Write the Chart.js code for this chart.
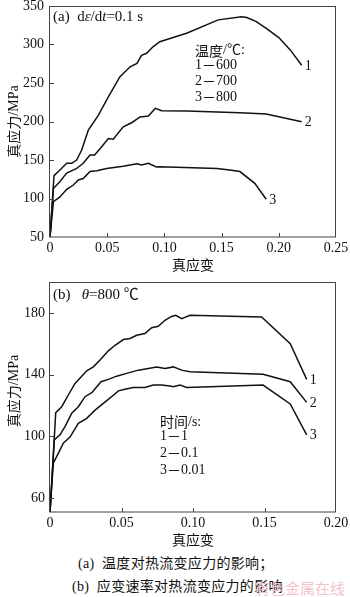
<!DOCTYPE html>
<html lang="zh">
<head>
<meta charset="UTF-8">
<title>真应力-真应变曲线</title>
<script src="https://cdn.jsdelivr.net/npm/chart.js"></script>
<style>
  body { margin: 0; background: #fff; }
  #page { position: relative; width: 350px; height: 597px; overflow: hidden; }
  canvas { position: absolute; left: 0; }
  #chartA { top: 0; }
  #chartB { top: 278px; }
  .caption { position: absolute; font-size: 14px; color: #111; white-space: nowrap; letter-spacing: 0.3px; }
  .caption .s { font-family: "Liberation Serif", serif; }
  .caption .c { font-family: "Noto Sans CJK SC", sans-serif; }
  .mark { position: absolute; left: 255px; top: 577px; font: 15px "Noto Sans CJK SC", sans-serif; color: #f3c3ca; white-space: nowrap; }
</style>
</head>
<body>
<div id="page">
  <canvas id="chartA" width="350" height="275"></canvas>
  <canvas id="chartB" width="350" height="274"></canvas>
  <div class="caption" style="left:78px; top:552px;"><span class="s">(a)</span>&nbsp;&nbsp;<span class="c">温度对热流变应力的影响；</span></div>
  <div class="caption" style="left:72px; top:575px;"><span class="s">(b)</span>&nbsp;&nbsp;<span class="c">应变速率对热流变应力的影响</span></div>
  <div class="mark">有色金属在线</div>
</div>
<script>
// (a) dε/dt = 0.1 s, 600 / 700 / 800 ℃
const strainA1 = [0, 0.0035, 0.0087, 0.0146, 0.019, 0.0233, 0.0277, 0.0335, 0.0422, 0.051, 0.061, 0.070, 0.076, 0.080, 0.0845, 0.090, 0.096, 0.120, 0.147, 0.1675, 0.172, 0.180, 0.190, 0.200, 0.210, 0.220];
const stressA1 = [50, 129.6, 137, 145.7, 145.7, 150, 163, 189, 208, 232, 258, 271, 275.5, 286, 288.6, 297, 303.6, 315, 332, 336, 335, 330, 320, 309, 293, 273];
const strainA2 = [0, 0.003, 0.0087, 0.0146, 0.0233, 0.029, 0.035, 0.039, 0.045, 0.051, 0.0553, 0.064, 0.0714, 0.0787, 0.086, 0.092, 0.0976, 0.1195, 0.166, 0.189, 0.207, 0.220];
const stressA2 = [50, 113, 122, 133, 139, 145.7, 156.5, 156.5, 167, 178, 177, 193, 198.4, 206, 207, 217, 214, 213.6, 211.5, 209.7, 204, 199.7];
const strainA3 = [0, 0.003, 0.0087, 0.0146, 0.0204, 0.0248, 0.029, 0.035, 0.041, 0.0495, 0.064, 0.076, 0.080, 0.086, 0.093, 0.096, 0.146, 0.157, 0.166, 0.179, 0.189];
const stressA3 = [50, 96, 102, 112, 117.5, 124, 126, 135, 136, 139, 142, 145, 143.5, 145.7, 141, 141.3, 139, 137, 135, 119.7, 99];

// (b) θ = 800 ℃, 1 / 0.1 / 0.01 s
const strainB1 = [0, 0.004, 0.0082, 0.0128, 0.0175, 0.0222, 0.0257, 0.0303, 0.035, 0.0408, 0.0455, 0.0513, 0.056, 0.0606, 0.0664, 0.0711, 0.0757, 0.0804, 0.085, 0.0879, 0.0921, 0.0979, 0.148, 0.168, 0.1795];
const stressB1 = [51, 115.4, 119.2, 126.8, 134.3, 139, 142.5, 145, 149.4, 155.4, 159, 162.7, 163.4, 165.5, 166.6, 170.4, 171.3, 175.2, 177.7, 178.4, 176.3, 178.4, 177.3, 160.1, 136.9];
const strainB2 = [0, 0.003, 0.007, 0.0105, 0.0152, 0.0198, 0.0245, 0.0292, 0.0357, 0.0408, 0.0466, 0.0536, 0.0618, 0.0687, 0.0746, 0.0804, 0.0862, 0.0921, 0.0979, 0.149, 0.168, 0.1795];
const stressB2 = [51, 97.7, 101, 106.3, 115, 119.2, 125.7, 128.3, 135.4, 136.9, 139, 140.8, 142.9, 144, 145, 144, 145, 142.9, 141.8, 140.3, 135.4, 122];
const strainB3 = [0, 0.0023, 0.0058, 0.0093, 0.014, 0.0198, 0.0257, 0.0315, 0.0373, 0.0431, 0.0478, 0.0524, 0.0582, 0.0664, 0.0722, 0.078, 0.0839, 0.0862, 0.0909, 0.0956, 0.149, 0.168, 0.1795];
const stressB3 = [51, 82.7, 89, 95.6, 99.5, 108.5, 111.7, 117, 121.4, 125.7, 129.5, 130.5, 131.7, 131.7, 133.2, 133.2, 132.6, 132.1, 133.2, 131.7, 133.2, 121, 101];

// axis ticks
const ticksAX = [0, 0.05, 0.10, 0.15, 0.20, 0.25];
const labelsAX = ['0', '0.05', '0.10', '0.15', '0.20', '0.25'];
const ticksAY = [50, 100, 150, 200, 250, 300, 350];
const ticksBX = [0, 0.05, 0.10, 0.15, 0.20];
const labelsBX = ['0', '0.05', '0.10', '0.15', '0.20'];
const ticksBY = [60, 100, 140, 180];

const SERIF = '"Liberation Serif", "Noto Sans CJK SC", serif';
const CJK = '"Noto Sans CJK SC", sans-serif';
const S = (t, px = 14) => ({ t, f: px + 'px ' + SERIF });
const SI = (t, px = 14) => ({ t, f: 'italic ' + px + 'px ' + SERIF });
const C = t => ({ t, f: '14px ' + CJK });

function pts(xs, ys) { return xs.map((x, i) => ({ x, y: ys[i] })); }

function drawRuns(ctx, x, y, runs) {
  runs.forEach(r => {
    ctx.font = r.f;
    ctx.fillText(r.t, x, y);
    x += ctx.measureText(r.t).width;
  });
}
function runsWidth(ctx, runs) {
  return runs.reduce((w, r) => { ctx.font = r.f; return w + ctx.measureText(r.t).width; }, 0);
}

// box, inward tick marks, axis titles and notes
const framePlugin = {
  id: 'frame',
  afterDatasetsDraw(chart, args, opts) {
    const { ctx, chartArea: a, scales: { x, y } } = chart;
    ctx.save();
    ctx.strokeStyle = '#444';
    ctx.lineWidth = 1;
    ctx.strokeRect(a.left - 0.5, a.top + 0.5, a.right - a.left, a.bottom - a.top - 0.5);
    ctx.beginPath();
    x.ticks.forEach(t => {
      const px = Math.round(x.getPixelForValue(t.value)) + 0.5;
      if (px > a.left + 2 && px < a.right - 2) { ctx.moveTo(px, a.bottom); ctx.lineTo(px, a.bottom - 4); }
    });
    y.ticks.forEach(t => {
      const py = Math.round(y.getPixelForValue(t.value)) + 0.5;
      if (py > a.top + 2 && py < a.bottom - 2) { ctx.moveTo(a.left, py); ctx.lineTo(a.left + 4, py); }
    });
    ctx.stroke();

    ctx.fillStyle = '#111';
    ctx.textBaseline = 'middle';
    ctx.textAlign = 'left';
    opts.notes.forEach(n => drawRuns(ctx, a.left + n.dx, a.top + n.dy, n.runs));

    // curve numbers next to the last point of each curve
    chart.data.datasets.forEach((ds, i) => {
      const last = ds.data[ds.data.length - 1];
      ctx.font = '14px ' + SERIF;
      ctx.fillText(String(i + 1), x.getPixelForValue(last.x) + 3, y.getPixelForValue(last.y) + 1);
    });

    // axis titles
    const xt = [C('真应变')];
    drawRuns(ctx, (a.left + a.right) / 2 - runsWidth(ctx, xt) / 2, a.bottom + 28, xt);
    const yt = [C('真应力'), S('/MPa')];
    ctx.translate(14, (a.top + a.bottom) / 2 + opts.yShift);
    ctx.rotate(-Math.PI / 2);
    drawRuns(ctx, -runsWidth(ctx, yt) / 2, 0, yt);
    ctx.restore();
  }
};

function makeChart(id, sets, cfg) {
  return new Chart(document.getElementById(id), {
    type: 'line',
    data: {
      datasets: sets.map(s => ({
        data: s, borderColor: '#111', borderWidth: 1.5,
        pointRadius: 0, tension: 0, fill: false
      }))
    },
    options: {
      responsive: false,
      animation: false,
      devicePixelRatio: 1,
      layout: { padding: { top: cfg.top, right: 14, left: 0, bottom: 0 } },
      plugins: {
        legend: { display: false },
        tooltip: { enabled: false },
        frame: { notes: cfg.notes, yShift: cfg.yShift }
      },
      scales: {
        x: {
          type: 'linear', min: cfg.xMin, max: cfg.xMax,
          grid: { display: false, drawTicks: false },
          border: { display: false },
          afterBuildTicks: s => { s.ticks = cfg.xTicks.map(v => ({ value: v })); },
          afterFit: s => { s.height = cfg.xHeight; s.paddingLeft = 0; s.paddingRight = 0; },
          ticks: {
            padding: 3, color: '#111', maxRotation: 0, autoSkip: false,
            font: { family: SERIF, size: 14 },
            callback: (v, i) => cfg.xLabels[i]
          }
        },
        y: {
          min: cfg.yMin, max: cfg.yMax,
          grid: { display: false, drawTicks: false },
          border: { display: false },
          afterBuildTicks: s => { s.ticks = cfg.yTicks.map(v => ({ value: v })); },
          afterFit: s => { s.width = 50; s.paddingTop = 0; s.paddingBottom = 0; },
          ticks: {
            padding: cfg.yPad, color: '#111', autoSkip: false,
            font: { family: SERIF, size: 14 },
            callback: v => String(v)
          }
        }
      }
    },
    plugins: [framePlugin]
  });
}

makeChart('chartA',
  [pts(strainA1, stressA1), pts(strainA2, stressA2), pts(strainA3, stressA3)],
  {
    top: 6, xHeight: 38, yPad: 6, yShift: 0,
    xMin: 0, xMax: 0.25, yMin: 50, yMax: 350,
    xTicks: ticksAX, xLabels: labelsAX, yTicks: ticksAY,
    notes: [
      { dx: 3, dy: 11, runs: [S('(a)', 15), S('  d', 15), SI('ε', 15), S('/d', 15), SI('t', 15), S('=0.1 s', 15)] },
      { dx: 145, dy: 44.5, runs: [C('温度'), S('/℃:')] },
      { dx: 145, dy: 59, runs: [S('1'), C('－'), S('600')] },
      { dx: 145, dy: 75, runs: [S('2'), C('－'), S('700')] },
      { dx: 145, dy: 91, runs: [S('3'), C('－'), S('800')] }
    ]
  });

makeChart('chartB',
  [pts(strainB1, stressB1), pts(strainB2, stressB2), pts(strainB3, stressB3)],
  {
    top: 4, xHeight: 40, yPad: 5, yShift: -6,
    xMin: 0, xMax: 0.20, yMin: 51, yMax: 200,
    xTicks: ticksBX, xLabels: labelsBX, yTicks: ticksBY,
    notes: [
      { dx: 3, dy: 13, runs: [S('(b)', 15), S('   ', 15), SI('θ', 15), S('=800 ℃', 15)] },
      { dx: 110, dy: 140, runs: [C('时间'), S('/s:')] },
      { dx: 110, dy: 154, runs: [S('1'), C('－'), S('1')] },
      { dx: 110, dy: 171, runs: [S('2'), C('－'), S('0.1')] },
      { dx: 110, dy: 188, runs: [S('3'), C('－'), S('0.01')] }
    ]
  });
</script>
</body>
</html>
